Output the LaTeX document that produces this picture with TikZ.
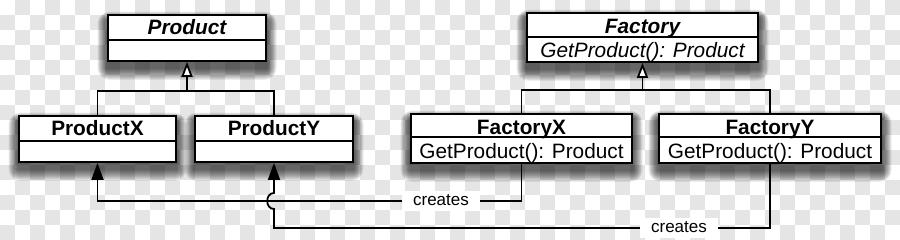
\documentclass[tikz,border=0pt]{standalone}
\usepackage{fontspec}
\setmainfont{Liberation Sans}
\usetikzlibrary{arrows.meta}
\pgfdeclarelayer{checker}
\pgfdeclarelayer{shade}
\pgfsetlayers{checker,shade,main}
\definecolor{checkgray}{HTML}{E5E5E5}
\tikzset{
  cls/.style={draw=black, fill=white, line width=1.8pt, inner sep=0pt},
  divline/.style={line width=1.6pt},
  ttl/.style={font=\fontsize{20.8}{24}\selectfont\bfseries, inner sep=0pt, text height=15pt, text depth=0pt},
  ttlit/.style={ttl, font=\fontsize{20.8}{24}\selectfont\bfseries\itshape},
  meth/.style={font=\fontsize{20.8}{24}\selectfont, inner sep=0pt, text height=15pt, text depth=0pt},
  methit/.style={meth, font=\fontsize{20.8}{24}\selectfont\itshape},
  conn/.style={line width=1.8pt},
  inh/.style={conn, -{Triangle[open, fill=white, width=11pt, length=15pt]}},
  crt/.style={conn, -{Triangle[width=12pt, length=17pt]}},
  lbl/.style={fill=white, font=\fontsize{17}{20}\selectfont, inner xsep=11pt, inner ysep=6pt, text height=8.8pt, text depth=0pt},
}
\newcommand\boxshade[1]{%
  \begin{pgfonlayer}{shade}
    \foreach \k in {1,...,12}{
      \fill[black, opacity=0.07, rounded corners=\k pt]
        ([shift={(-0.8*\k pt, 0.7*\k pt - 6pt)}]#1.north west) rectangle
        ([shift={(0.8*\k pt, -1*\k pt - 6pt)}]#1.south east);
    }
  \end{pgfonlayer}}
\begin{document}
\begin{tikzpicture}[x=1pt, y=-1pt]
\useasboundingbox (0,0) rectangle (900,240);
% checkerboard background
\begin{pgfonlayer}{checker}
  \fill[white] (0,0) rectangle (900,240);
  \foreach \j in {0,...,15}{
    \pgfmathsetmacro\xs{mod(\j+1,2)*15}
    \foreach \i in {0,...,29}{
      \fill[checkgray] (\xs+30*\i, 15*\j) rectangle ++(15,15);
    }
  }
\end{pgfonlayer}

% classes
\node[cls, minimum width=158pt, minimum height=46pt] (product) at (187,38) {};
\node[cls, minimum width=157pt, minimum height=46pt] (productx) at (97.5,139) {};
\node[cls, minimum width=158pt, minimum height=46pt] (producty) at (274,139) {};
\node[cls, minimum width=231pt, minimum height=49pt] (factory) at (642.5,37.5) {};
\node[cls, minimum width=221pt, minimum height=49pt] (factoryx) at (521.5,138.5) {};
\node[cls, minimum width=222pt, minimum height=49pt] (factoryy) at (770,138.5) {};

\boxshade{product}
\boxshade{productx}
\boxshade{producty}
\boxshade{factory}
\boxshade{factoryx}
\boxshade{factoryy}

% dividers
\draw[divline] (product.west |- 0,40) -- (product.east |- 0,40);
\draw[divline] (productx.west |- 0,141) -- (productx.east |- 0,141);
\draw[divline] (producty.west |- 0,141) -- (producty.east |- 0,141);
\draw[divline] (factory.west |- 0,37) -- (factory.east |- 0,37);
\draw[divline] (factoryx.west |- 0,137) -- (factoryx.east |- 0,137);
\draw[divline] (factoryy.west |- 0,137) -- (factoryy.east |- 0,137);

% texts
\node[ttlit] (tproduct) at (187,27.3) {Product};
\node[ttl] (tproductx) at (97.5,128.3) {ProductX};
\node[ttl] (tproducty) at (274,128.3) {ProductY};
\node[ttlit] (tfactory) at (642.5,26.3) {Factory};
\node[methit] (mfactory) at (642.5,50.3) {GetProduct(): Product};
\node[ttl] (tfactoryx) at (521.5,127) {FactoryX};
\node[meth] (mfactoryx) at (521.5,151) {GetProduct(): Product};
\node[ttl] (tfactoryy) at (770,127) {FactoryY};
\node[meth] (mfactoryy) at (770,151) {GetProduct(): Product};

% inheritance
\coordinate (pjoin) at (187,91);
\coordinate (fjoin) at (642.5,90);
\draw[conn] (productx.north) |- (pjoin) -| (producty.north);
\draw[inh] (pjoin) -- (product.south);
\draw[conn] (factoryx.north) |- (fjoin) -| (factoryy.north);
\draw[inh] (fjoin) -- (factory.south);

% creates
\coordinate (c1) at (97.5,201);
\coordinate (c2) at (274,228);
\coordinate (hopb) at (274,209);
\coordinate (hopt) at (274,193);
\draw[crt] (factoryx.south) |- (c1) -- (productx.south);
\draw[crt] (factoryy.south) |- (c2) -- (hopb) .. controls (265,209) and (265,193) .. (hopt) -- (producty.south);
\node[lbl] (lab1) at (441,201) {creates};
\node[lbl] (lab2) at (679,228) {creates};
\end{tikzpicture}
\end{document}
